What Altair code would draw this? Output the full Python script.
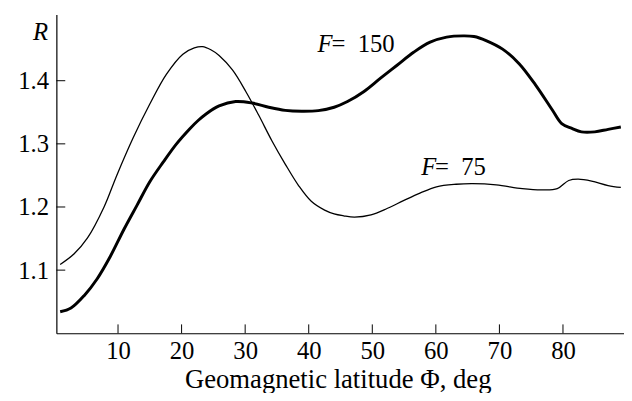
import altair as alt
import pandas as pd

# F = 75 curve (thin)
f75_x = [0.9, 3.1, 5.2, 7.8, 9.8, 12.4, 15.0, 17.6, 20.2, 22.0, 23.3, 24.6, 25.9, 28.0, 30.1, 32.1, 34.2,
         36.3, 38.4, 40.4, 42.5, 44.0, 45.5, 47.2, 49.8, 52.4, 54.9, 57.5, 60.1, 63.2, 65.8, 69.5, 73.6, 76.7,
         79.1, 80.9, 82.4, 84.5, 87.1, 89.1]
f75_y = [1.109, 1.126, 1.151, 1.200, 1.250, 1.310, 1.363, 1.410, 1.442, 1.452, 1.454, 1.449, 1.440, 1.417,
         1.383, 1.346, 1.305, 1.268, 1.234, 1.209, 1.195, 1.189, 1.186, 1.184, 1.1875, 1.198, 1.210, 1.222, 1.232,
         1.236, 1.237, 1.235, 1.229, 1.227, 1.229, 1.242, 1.244, 1.241, 1.234, 1.231]

# F = 150 curve (thick)
f150_x = [0.9, 2.6, 4.7, 6.7, 8.8, 10.9, 13.0, 15.0, 17.1, 19.2, 21.3, 22.6, 23.8, 25.9, 28.5, 31.1, 33.7,
          36.3, 38.9, 41.5, 44.0, 46.1, 48.7, 51.3, 53.9, 56.5, 59.1, 61.7, 64.3, 66.0, 67.9, 70.5, 73.1,
          75.7, 78.3, 79.8, 81.4, 82.9, 85.0, 87.1, 89.1]
f150_y = [1.034, 1.040, 1.060, 1.086, 1.122, 1.164, 1.203, 1.240, 1.271, 1.300, 1.324, 1.337, 1.347, 1.360,
          1.367, 1.3646, 1.358, 1.353, 1.3516, 1.3526, 1.358, 1.367, 1.383, 1.404, 1.4245, 1.445, 1.461,
          1.469, 1.471, 1.470, 1.4636, 1.450, 1.427, 1.393, 1.354, 1.332, 1.3245, 1.319, 1.319, 1.323, 1.3266]

x_ticks = [10, 20, 30, 40, 50, 60, 70, 80]
y_ticks = [1.1, 1.2, 1.3, 1.4]

label_x = [41.4, 57.7]
label_y = [1.445, 1.250]
label_num = ["=\u2002150", "=\u200275"]

FONT = "Liberation Serif, DejaVu Serif, Times New Roman, serif"
FS = 25

d75 = pd.DataFrame({"x": f75_x, "y": f75_y})
d150 = pd.DataFrame({"x": f150_x, "y": f150_y})
dlab = pd.DataFrame({"x": label_x, "y": label_y, "t": label_num, "f": ["F", "F"]})
dxt = pd.DataFrame({"v": x_ticks})
dyt = pd.DataFrame({"v": y_ticks})

xs = alt.Scale(domain=[0.3, 89.6], nice=False, zero=False)
ys = alt.Scale(domain=[1.0, 1.505], nice=False, zero=False)

xaxis = alt.Axis(values=x_ticks, ticks=False, grid=False, labelPadding=6,
                 title="Geomagnetic latitude Φ, deg", titleY=55, titleX=285, titleBaseline="alphabetic",
                 titleFontWeight="normal", titleFontSize=27)
yaxis = alt.Axis(values=y_ticks, format=".1f", ticks=False, grid=False, labelPadding=8,
                 title="R", titleAngle=0, titleAlign="right", titleX=-9, titleY=25,
                 titleBaseline="alphabetic", titleFontStyle="italic", titleFontWeight="normal")

thin = alt.Chart(d75).mark_line(color="black", strokeWidth=1.3, interpolate="catmull-rom").encode(
    x=alt.X("x:Q", scale=xs, axis=xaxis),
    y=alt.Y("y:Q", scale=ys, axis=yaxis),
)
thick = alt.Chart(d150).mark_line(color="black", strokeWidth=3, interpolate="catmull-rom").encode(
    x=alt.X("x:Q", scale=xs),
    y=alt.Y("y:Q", scale=ys),
)

xt = alt.Chart(dxt).mark_rule(color="black", strokeWidth=1).encode(
    x=alt.X("v:Q", scale=xs), y=alt.value(323), y2=alt.value(314))
yt = alt.Chart(dyt).mark_rule(color="black", strokeWidth=1).encode(
    y=alt.Y("v:Q", scale=ys), x=alt.value(0), x2=alt.value(9))

lab_f = alt.Chart(dlab).mark_text(font=FONT, fontSize=FS, fontStyle="italic", align="left",
                                  baseline="alphabetic", color="black").encode(
    x=alt.X("x:Q", scale=xs), y=alt.Y("y:Q", scale=ys), text="f:N")
lab_t = alt.Chart(dlab).mark_text(font=FONT, fontSize=FS, align="left", dx=14,
                                  baseline="alphabetic", color="black").encode(
    x=alt.X("x:Q", scale=xs), y=alt.Y("y:Q", scale=ys), text="t:N")

chart = alt.layer(thin, thick, xt, yt, lab_f, lab_t).properties(
    width=575, height=323,
    autosize="none",
    padding={"left": 49, "top": 4, "right": 0, "bottom": 58},
).configure_view(stroke=None).configure_axis(
    domainColor="black", domainWidth=1.2,
    labelFont=FONT, labelFontSize=FS, labelColor="black",
    titleFont=FONT, titleFontSize=FS, titleColor="black",
)

chart.save("out.html", embed_options={"renderer": "svg", "actions": False})
